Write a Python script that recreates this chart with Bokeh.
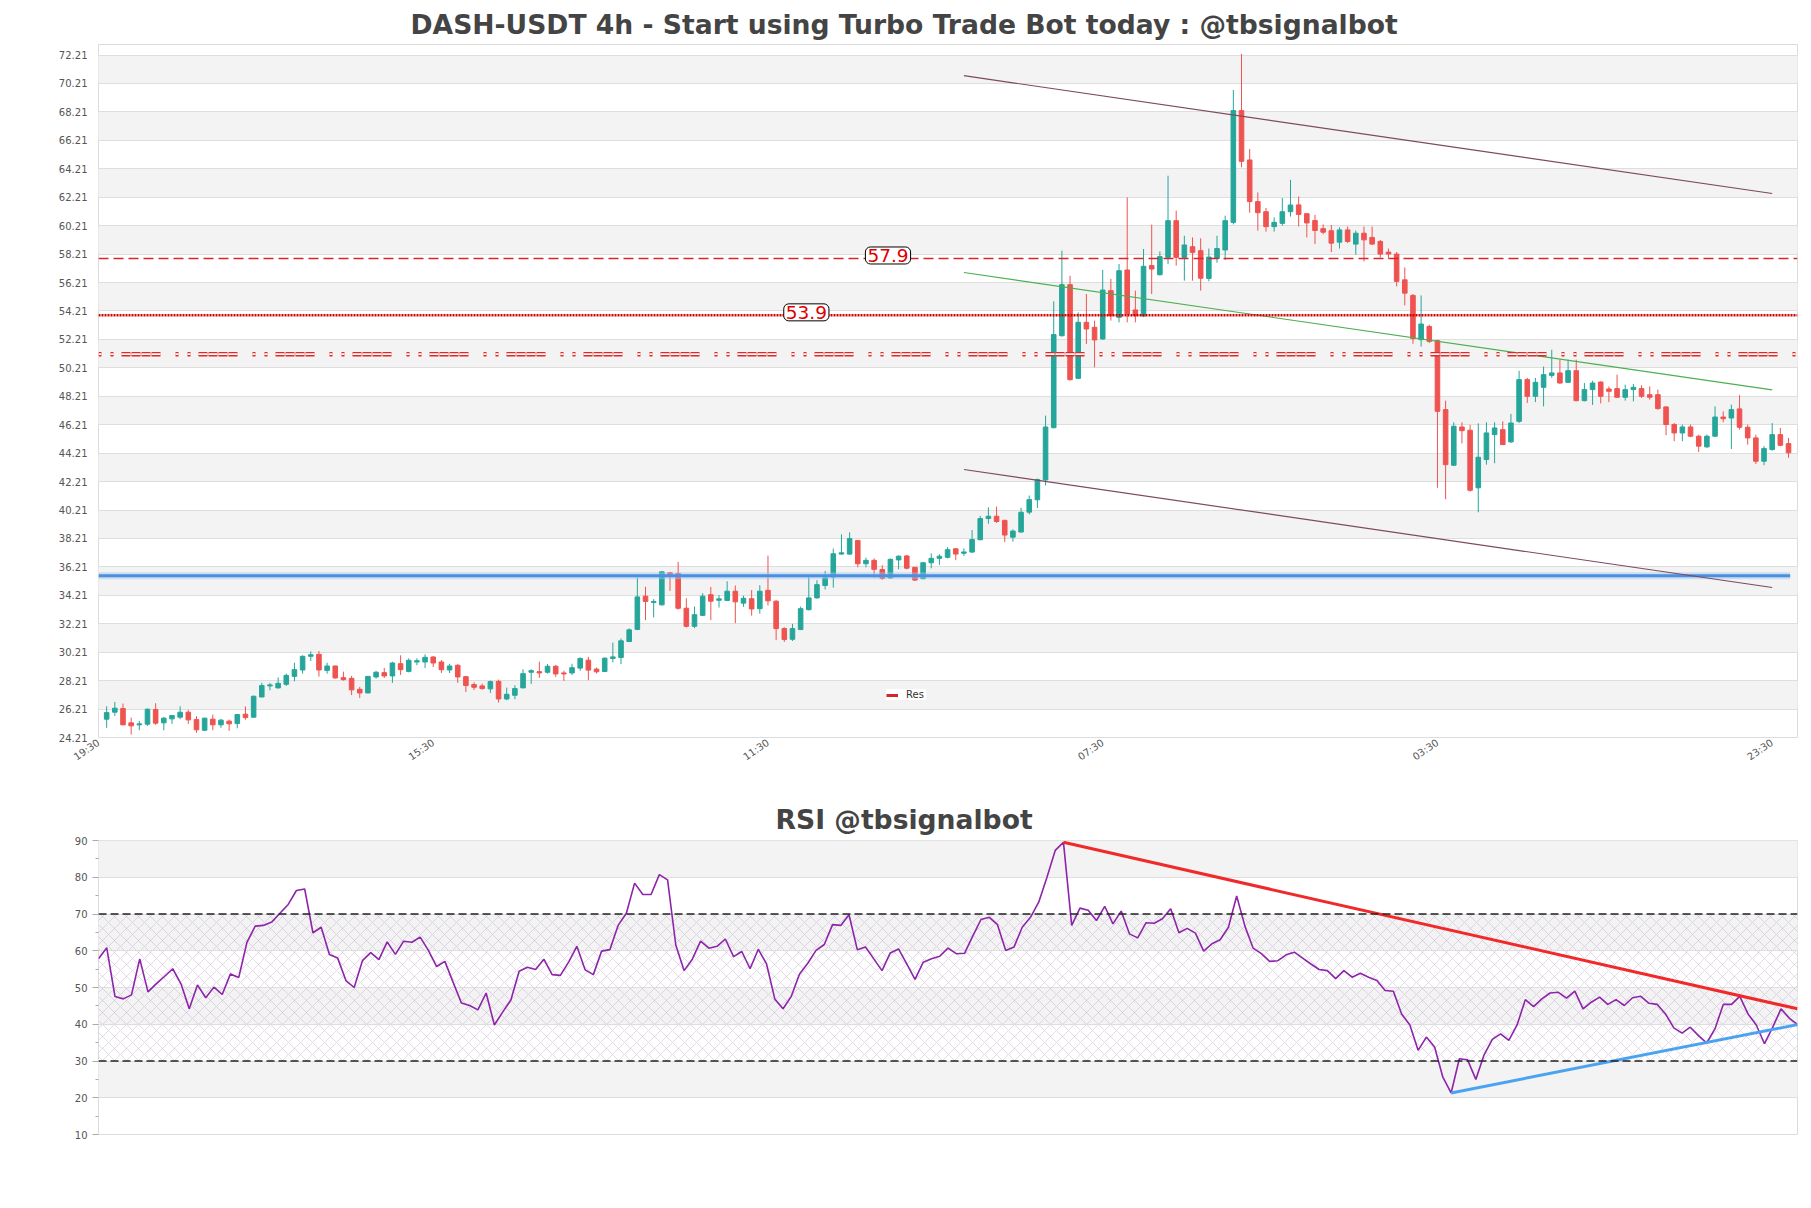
from bokeh.plotting import figure
from bokeh.layouts import column
from bokeh.models import (ColumnDataSource, FixedTicker, Label, Legend, LegendItem,
                          Span, Range1d)
from bokeh.embed import file_html
from bokeh.resources import INLINE

# ---------------- data ----------------
opens = [25.50, 25.99, 26.25, 25.24, 25.10, 25.15, 26.18, 25.24, 25.52, 25.64,
         25.99, 25.47, 24.72, 25.50, 25.10, 25.36, 25.19, 25.85, 25.64, 27.06,
         27.84, 27.70, 27.95, 28.51, 28.96, 29.92, 30.06, 28.93, 29.24, 28.42,
         28.37, 27.60, 27.34, 28.47, 28.77, 28.54, 29.40, 28.86, 29.52, 29.52,
         29.87, 29.52, 28.96, 29.29, 28.49, 27.93, 27.84, 27.63, 28.16, 26.92,
         27.18, 27.70, 28.80, 28.84, 28.80, 29.22, 28.75, 28.75,
         29.09, 29.65, 29.02, 28.85, 29.77, 29.84, 30.96, 31.81, 34.15, 33.71, 33.54, 35.79,
         35.75, 33.30, 32.03, 32.80, 34.25, 33.86, 33.85, 34.50, 33.66, 33.97,
         33.27, 34.56, 33.80, 31.87, 31.12, 31.80, 33.20, 34.03, 34.90, 35.50,
         37.11, 37.11, 38.07, 36.43, 36.67, 36.02, 35.43, 36.70, 36.98, 36.18,
         35.38, 36.50, 36.81, 36.88, 37.48, 37.17, 37.25, 38.12, 39.61, 39.77,
         39.48, 38.30, 38.66, 40.06, 40.93, 42.33,
         46.00, 52.47, 56.06, 49.47, 53.41, 53.06, 52.24, 55.64, 53.76, 57.09,
         54.28, 53.86, 57.40, 56.76, 57.98, 60.56, 57.98, 58.73, 58.45, 56.50,
         57.90, 58.50, 60.44, 68.30, 64.83, 61.90, 61.19, 60.14, 60.37, 61.19, 61.67,
         61.05, 60.57, 60.00, 59.85, 59.05, 59.91, 58.91, 59.68, 59.38, 59.10,
         58.35, 58.21, 56.40, 55.30, 52.19, 53.12, 52.12, 47.27, 43.36, 46.05,
         45.82, 41.77, 43.76, 45.51, 45.86, 45.00, 46.45, 49.38, 48.21, 48.84,
         49.68, 49.85, 49.19, 50.01, 47.90, 48.68, 49.21, 48.72, 48.75, 48.14,
         48.68, 48.75, 48.32, 48.32, 47.46, 46.22, 45.63, 46.05, 45.40, 44.65,
         45.40, 46.75, 46.68, 47.32, 46.03, 45.28, 43.64, 44.46, 45.51, 44.88]

closes = [25.96, 26.27, 25.10, 25.03, 25.17, 26.20, 25.22, 25.57, 25.75, 25.99,
          25.45, 24.75, 25.57, 25.10, 25.43, 25.17, 25.82, 25.61, 27.11, 27.86,
          27.91, 28.02, 28.58, 28.98, 29.92, 30.03, 28.96, 29.24, 28.40, 28.28,
          27.56, 27.34, 28.51, 28.80, 28.54, 29.45, 28.98, 29.64, 29.61, 29.85,
          29.45, 28.98, 29.24, 28.47, 27.86, 27.74, 27.65, 28.14, 26.92, 27.25,
          27.65, 28.70, 28.91, 28.75, 29.22, 28.68, 28.68, 29.12,
          29.77, 28.95, 28.83, 29.79, 29.88, 31.01, 31.78, 34.10, 33.78, 33.78, 35.86, 35.63,
          33.30, 32.03, 32.85, 34.15, 33.80, 33.96, 34.50, 33.75, 34.00, 33.25,
          34.50, 33.82, 31.87, 31.10, 31.87, 33.27, 34.03, 34.96, 35.44, 37.13,
          37.20, 38.20, 36.43, 36.67, 36.04, 35.40, 36.74, 36.96, 36.12, 35.28,
          36.50, 36.81, 36.96, 37.42, 37.11, 37.26, 38.13, 39.61, 39.77, 39.40,
          38.45, 38.73, 40.05, 40.94, 42.35, 46.05,
          52.55, 56.06, 49.38, 53.41, 52.94, 52.17, 55.68, 53.88, 57.04, 54.00,
          53.88, 57.35, 57.16, 58.03, 60.56, 57.98, 58.85, 58.33, 56.51, 58.00,
          58.60, 60.56, 68.30, 64.73, 61.90, 61.12, 60.14, 60.44, 61.19, 61.66, 61.00,
          60.40, 59.87, 59.75, 58.98, 59.91, 59.10, 59.68, 59.21, 58.91, 58.21,
          58.21, 56.29, 55.46, 52.26, 53.29, 52.07, 47.15, 43.40, 46.10, 45.79,
          41.60, 43.92, 45.63, 45.98, 44.81, 46.33, 49.38, 48.21, 49.19, 49.73,
          49.85, 49.14, 50.01, 47.90, 48.68, 49.14, 48.21, 48.56, 48.14, 48.68,
          48.84, 48.21, 48.14, 47.34, 46.22, 45.63, 46.05, 45.40, 44.70, 45.40,
          46.75, 46.63, 47.27, 46.03, 45.28, 43.64, 44.53, 45.51, 44.76, 44.23]

highs = [26.41, 26.71, 26.60, 25.61, 25.38, 26.25, 26.62, 25.66, 25.78, 26.41,
         26.15, 25.71, 25.61, 25.82, 25.52, 25.47, 25.87, 26.39, 27.16, 28.05,
         28.05, 28.44, 28.70, 29.47, 29.99, 30.27, 30.29, 29.47, 29.26, 28.84,
         28.54, 27.77, 28.51, 28.89, 29.10, 29.54, 29.99, 29.78, 29.78, 30.06,
         29.94, 29.66, 29.40, 29.36, 28.54, 28.09, 28.00, 28.21, 28.28, 27.72,
         27.88, 29.01, 29.01, 29.54, 29.38, 29.31, 28.91, 29.40,
         29.84, 29.88, 29.13, 29.84, 30.89, 31.17, 31.88, 35.46, 34.81, 33.94, 35.89, 35.86,
         36.55, 34.00, 33.42, 34.36, 34.80, 34.23, 35.20, 34.90, 34.18, 34.58,
         34.92, 37.00, 33.86, 31.96, 32.20, 33.42, 35.50, 35.27, 35.93, 37.50,
         38.50, 38.64, 38.10, 36.86, 36.81, 36.33, 36.80, 37.02, 37.05, 36.20,
         36.56, 37.16, 37.10, 37.60, 37.54, 37.50, 38.80, 39.80, 40.40, 40.45,
         39.53, 38.85, 40.37, 41.23, 42.42, 46.85,
         54.89, 58.45, 56.69, 54.11, 55.40, 53.53, 57.09, 56.46, 57.51, 62.20,
         55.64, 58.57, 60.28, 58.40, 63.72, 61.26, 59.50, 59.38, 59.32, 58.60,
         59.50, 60.91, 69.75, 72.28, 65.60, 62.55, 61.45, 60.79, 62.15, 63.43, 62.26,
         61.09, 60.97, 60.30, 60.26, 60.10, 60.15, 59.87, 60.15, 60.15, 59.20,
         58.60, 58.35, 57.27, 55.40, 55.30, 53.24, 52.19, 47.90, 46.38, 46.38,
         46.20, 46.30, 46.38, 46.38, 46.45, 46.97, 50.00, 49.50, 49.50, 50.30,
         51.48, 50.78, 50.78, 50.78, 49.14, 49.30, 49.26, 48.90, 49.73, 49.03,
         49.07, 48.98, 48.90, 48.68, 47.50, 46.33, 46.22, 46.22, 45.51, 45.51,
         47.50, 47.15, 47.62, 48.28, 46.22, 45.51, 44.70, 46.33, 45.98, 45.28]

lows = [24.89, 25.73, 25.08, 24.42, 24.72, 25.03, 25.10, 24.72, 25.17, 25.50,
        25.17, 24.54, 24.68, 24.72, 24.89, 24.68, 24.86, 25.47, 25.59, 27.04,
        27.53, 27.65, 27.84, 28.16, 28.70, 29.59, 28.49, 28.70, 28.35, 28.21,
        27.20, 26.99, 27.34, 28.35, 28.40, 28.05, 28.61, 28.79, 29.29, 29.10,
        29.17, 28.75, 28.75, 28.05, 27.41, 27.55, 27.58, 27.34, 26.67, 26.83,
        26.90, 27.68, 27.98, 28.40, 28.70, 28.47, 28.19, 28.61,
        28.90, 28.24, 28.71, 28.85, 29.49, 29.37, 30.94, 31.76, 32.46, 32.65, 33.49, 34.52,
        33.20, 31.95, 31.90, 32.77, 32.46, 33.35, 33.80, 32.25, 33.40, 32.78,
        32.92, 33.50, 31.06, 30.93, 31.00, 31.78, 33.15, 33.98, 34.62, 34.75,
        37.05, 37.05, 36.18, 36.18, 35.45, 35.30, 35.38, 36.04, 36.04, 35.22,
        35.34, 36.11, 36.35, 36.81, 36.68, 36.98, 37.20, 38.08, 39.25, 39.30,
        37.96, 37.99, 38.62, 39.90, 40.36, 41.94,
        45.95, 52.40, 49.31, 49.42, 51.89, 50.25, 52.17, 53.53, 53.41, 53.41,
        53.41, 53.78, 55.40, 56.70, 57.51, 57.40, 56.34, 56.34, 55.64, 56.30,
        57.60, 57.79, 60.30, 64.31, 61.12, 59.86, 59.79, 59.79, 60.21, 60.85, 60.15,
        59.38, 58.91, 59.60, 58.35, 58.60, 58.98, 58.16, 57.69, 58.86, 57.97,
        57.90, 55.94, 54.60, 51.90, 51.70, 51.95, 41.77, 40.97, 43.30, 44.90,
        41.50, 40.05, 43.40, 43.50, 44.80, 44.93, 46.33, 47.74, 47.80, 47.50,
        49.50, 49.10, 49.14, 47.85, 47.85, 47.60, 47.70, 47.80, 48.09, 47.90,
        47.85, 48.09, 47.97, 47.27, 45.47, 45.05, 45.05, 45.33, 44.30, 44.58,
        45.35, 46.38, 44.50, 45.86, 44.81, 43.45, 43.36, 44.39, 44.70, 43.88]

rsi = [57.8, 60.8, 47.55, 46.9, 48.0, 57.8, 48.8, 51.0, 53.0, 55.1,
       51.0, 44.2, 50.7, 47.2, 50.1, 48.1, 53.7, 52.7, 62.3, 66.7,
       66.9, 67.8, 70.2, 72.6, 76.4, 76.8, 64.9, 66.4, 59.0, 58.0,
       51.9, 50.0, 57.3, 59.5, 57.6, 62.4, 59.0, 62.6, 62.3, 63.7,
       60.1, 55.7, 57.1, 51.4, 45.8, 45.1, 43.9, 48.5, 39.8, 43.3,
       46.6, 54.4, 55.5, 54.9, 57.7, 53.5, 53.3, 56.9, 61.2, 54.8,
       53.5, 59.9, 60.3, 66.9, 70.2, 78.4, 75.3, 75.3, 80.7, 79.3,
       61.5, 54.6, 57.7, 62.6, 60.7, 61.2, 63.2, 58.4, 59.8, 55.1,
       60.4, 56.4, 46.9, 44.2, 47.6, 53.7, 56.6, 60.1, 61.7, 67.1,
       66.9, 69.8, 60.3, 61.0, 57.8, 54.6, 59.4, 60.5, 56.4, 52.2,
       56.9, 57.8, 58.5, 60.7, 59.2, 59.3, 64.0, 68.5, 69.1, 67.1,
       60.1, 61.0, 66.4, 69.1, 73.2, 80.0, 87.3, 89.5, 66.9, 71.6,
       71.0, 68.2, 72.1, 67.3, 70.8, 64.6, 63.5, 67.6, 67.5, 68.7,
       71.4, 64.9, 66.1, 64.8, 59.9, 61.9, 63.0, 66.4, 74.9, 66.7,
       60.7, 59.2, 57.1, 57.3, 58.9, 59.6, 58.0, 56.4, 54.9, 54.6,
       52.4, 54.6, 52.8, 53.9, 52.8, 51.9, 49.2, 49.0, 42.8, 39.8,
       32.9, 36.5, 33.8, 25.6, 21.3, 30.6, 30.3, 25.0, 31.7, 35.9,
       37.4, 35.6, 39.8, 46.7, 44.8, 46.9, 48.5, 48.7, 47.1, 49.0,
       44.2, 46.0, 47.4, 45.4, 46.7, 45.1, 47.2, 47.6, 45.7, 45.4,
       42.8, 39.0, 37.6, 39.2, 36.9, 34.9, 38.8, 45.4, 45.4, 47.6,
       42.8, 39.8, 34.7, 39.2, 44.2, 41.7, 39.9]

x_tick_pos = [-1, 40, 81, 122, 163, 204]
x_tick_labels = ["19:30", "15:30", "11:30", "07:30", "03:30", "23:30"]
y_ticks = [24.21, 26.21, 28.21, 30.21, 32.21, 34.21, 36.21, 38.21, 40.21, 42.21,
           44.21, 46.21, 48.21, 50.21, 52.21, 54.21, 56.21, 58.21, 60.21, 62.21,
           64.21, 66.21, 68.21, 70.21, 72.21]
rsi_ticks = [10, 20, 30, 40, 50, 60, 70, 80, 90]
rsi_minor = [15, 25, 35, 45, 55, 65, 75, 85]

res_levels = [57.9, 53.9]
res_zone = [51.17]
support_level = 35.58

chan_x = [105, 204]
chan_upper = [70.76, 62.47]
chan_mid = [56.91, 48.66]
chan_lower = [43.06, 34.76]

rsi_res_x = [117, 206]
rsi_res_y = [89.5, 44.2]
rsi_sup_x = [164, 206]
rsi_sup_y = [21.3, 39.9]

# ---------------- styling ----------------
W = 1811
FONT = "DejaVu Sans"
GREEN = "#26a69a"
RED = "#ef5350"
BAND = "#f3f3f3"
GRID = "#dedede"
LEFT = 98

n = len(opens)
idx = list(range(n))
colors = [GREEN if c >= o else RED for o, c in zip(opens, closes)]
src = ColumnDataSource(dict(x=idx, o=opens, c=closes, h=highs, l=lows,
                            top=[max(a, b) for a, b in zip(opens, closes)],
                            bot=[min(a, b) for a, b in zip(opens, closes)],
                            col=colors))

x0, x1 = -1.0, 207.1
p = figure(width=W, height=790, x_range=Range1d(x0, x1), y_range=Range1d(24.21, 72.95),
           output_backend="svg", toolbar_location=None,
           min_border_left=LEFT, min_border_right=14, min_border_top=44, min_border_bottom=53)
p.background_fill_color = "white"
p.border_fill_color = "white"
p.outline_line_color = "#dcdcdc"

# bands
band_b = y_ticks[1:24:2]
p.quad(left=[x0 - 5] * len(band_b), right=[x1 + 5] * len(band_b), bottom=band_b,
       top=[b + 2 for b in band_b], fill_color=BAND, line_color=None, level="image")
p.xgrid.visible = False
p.ygrid.ticker = FixedTicker(ticks=y_ticks)
p.ygrid.grid_line_color = GRID

p.yaxis.ticker = FixedTicker(ticks=y_ticks)
p.yaxis.major_label_overrides = {t: f"{t:.2f}" for t in y_ticks}
p.xaxis.ticker = FixedTicker(ticks=x_tick_pos)
p.xaxis.major_label_overrides = dict(zip(x_tick_pos, x_tick_labels))
p.xaxis.major_label_orientation = 0.6
p.xaxis.major_tick_out = 0
p.xaxis.major_label_standoff = 4
for ax in (p.xaxis, p.yaxis):
    ax.axis_line_color = None
    ax.major_tick_line_color = None
    ax.minor_tick_line_color = None
    ax.major_label_text_font = FONT
    ax.major_label_text_font_size = "10px"
    ax.major_label_text_color = "#555555"

p.title.text = "DASH-USDT 4h - Start using Turbo Trade Bot today : @tbsignalbot"
p.title.text_font = FONT
p.title.text_font_size = "26.6px"
p.title.text_font_style = "bold"
p.title.text_color = "#444444"
p.title.align = "left"
p.title.offset = 312
p.title.standoff = 10

# candles
p.segment(x0="x", y0="l", x1="x", y1="h", source=src, line_color="col", line_width=1)
p.vbar(x="x", width=0.56, top="top", bottom="bot", source=src,
       fill_color="col", line_color="col", line_width=1)

# resistance / support
p.add_layout(Span(location=res_levels[0], dimension="width", line_color="#d92525",
                  line_width=1.5, line_dash="10 5"))
p.add_layout(Span(location=res_levels[1], dimension="width", line_color="#d00000",
                  line_width=2.5, line_dash="2 1"))
ZONE_DASH = "3 9 3 8 9 1 9 1 9 1 9 15"
for lv in res_zone:
    p.add_layout(Span(location=lv, dimension="width", line_color="#e02828",
                      line_width=4.5, line_dash=ZONE_DASH))
    p.add_layout(Span(location=lv, dimension="width", line_color="white",
                      line_width=1.8, line_dash=ZONE_DASH))

# support line (glow + main)
p.segment(x0=[x0], y0=[support_level], x1=[n - 1 + 0.2], y1=[support_level],
          line_color="#9cc6f2", line_width=7, line_alpha=0.45)
p.segment(x0=[x0], y0=[support_level], x1=[n - 1 + 0.2], y1=[support_level],
          line_color="#4a8fe0", line_width=3)

# channel
p.line(chan_x, chan_upper, line_color="#7d4a5e", line_width=1.2)
p.line(chan_x, chan_lower, line_color="#7d4a5e", line_width=1.2)
p.line(chan_x, chan_mid, line_color="#4caf50", line_width=1.1)

# labels on levels
for lv, xpos in zip(res_levels, [95.7, 85.7]):
    p.add_layout(Label(x=xpos, y=lv, y_offset=3, text=f"{lv}", text_align="center",
                       text_baseline="middle", text_color="#e00000",
                       text_font=FONT, text_font_size="18.5px",
                       background_fill_color="white", border_line_color="black",
                       border_line_width=1, border_radius=5, padding=2))

# legend (proxy line kept outside the visible range)
proxy = p.line(x=[x0, x0], y=[0, 0], line_color="#d62728", line_width=3)
leg = Legend(items=[LegendItem(label="Res", renderers=[proxy])], location=(788, 37),
             label_text_font=FONT, label_text_font_size="10px", label_text_color="#333333",
             glyph_width=12, glyph_height=10, label_height=10, padding=6, margin=0,
             spacing=0, label_standoff=8, border_line_color=None,
             background_fill_color="white", background_fill_alpha=1.0)
p.add_layout(leg)

# ---------------- RSI ----------------
r = figure(width=W, height=364, x_range=Range1d(0, n - 1), y_range=Range1d(10, 90),
           output_backend="svg", toolbar_location=None,
           min_border_left=LEFT, min_border_right=14, min_border_top=50, min_border_bottom=20)
r.background_fill_color = "white"
r.border_fill_color = "white"
r.outline_line_color = "#dcdcdc"
r.xaxis.visible = False
r.xgrid.visible = False
r.ygrid.ticker = FixedTicker(ticks=rsi_ticks)
r.ygrid.grid_line_color = GRID
r.yaxis.ticker = FixedTicker(ticks=rsi_ticks, minor_ticks=rsi_minor)
r.yaxis.axis_line_color = None
r.yaxis.major_tick_line_color = "#aaaaaa"
r.yaxis.minor_tick_line_color = "#aaaaaa"
r.yaxis.major_tick_in = 0
r.yaxis.major_tick_out = 6
r.yaxis.minor_tick_in = 0
r.yaxis.minor_tick_out = 3
r.yaxis.major_label_text_font = FONT
r.yaxis.major_label_text_font_size = "10px"
r.yaxis.major_label_text_color = "#555555"

rb = rsi_ticks[1:8:2]
r.quad(left=[-5] * len(rb), right=[n + 5] * len(rb), bottom=rb, top=[b + 10 for b in rb],
       fill_color=BAND, line_color=None, level="image")
r.quad(left=[-5], right=[n + 5], bottom=[30], top=[70], fill_alpha=0, line_color=None,
       hatch_pattern="x", hatch_color="#a88fbf", hatch_alpha=0.55, hatch_scale=12,
       hatch_weight=0.6, level="underlay")
r.add_layout(Span(location=70, dimension="width", line_color="#222222", line_width=1.3,
                  line_dash="8 4"))
r.add_layout(Span(location=30, dimension="width", line_color="#222222", line_width=1.3,
                  line_dash="8 4"))

r.line(idx, rsi, line_color="#8e24aa", line_width=1.6)
r.line(rsi_res_x, rsi_res_y, line_color="#f02a2a", line_width=3)
r.line(rsi_sup_x, rsi_sup_y, line_color="#4aa3f0", line_width=3)

r.title.text = "RSI @tbsignalbot"
r.title.text_font = FONT
r.title.text_font_size = "26.6px"
r.title.text_font_style = "bold"
r.title.text_color = "#444444"
r.title.align = "left"
r.title.offset = 677
r.title.standoff = 11

layout = column(p, r)
open("out.html", "w").write(file_html(layout, INLINE))
